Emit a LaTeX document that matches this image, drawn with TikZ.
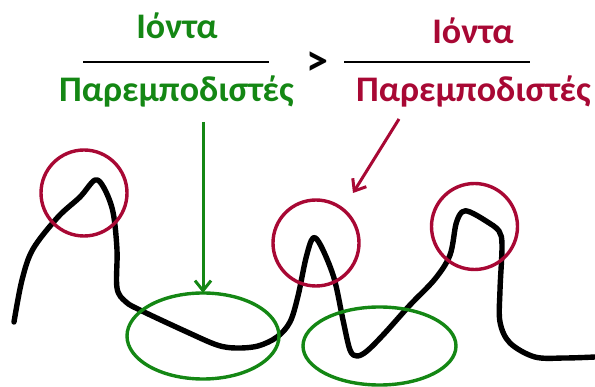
\documentclass[tikz,border=0pt]{standalone}
\usepackage{fontspec}
\setmainfont{Carlito}
\usetikzlibrary{arrows.meta}
\definecolor{ggreen}{RGB}{20,135,20}
\definecolor{rred}{RGB}{168,8,52}
\tikzset{
  lbl/.style={font=\bfseries\fontsize{36}{38}\selectfont, inner sep=0pt, anchor=base},
  bar/.style={line width=2pt, black},
  ring/.style={line width=3.4pt},
  chain/.style={line width=5.4pt, black, line cap=round, line join=round},
  ptr/.style={line width=3pt, -{Straight Barb[length=10pt,width=16pt,line width=3pt]}}
}
\begin{document}
\begin{tikzpicture}[x=1pt,y=-1pt]
\useasboundingbox (0,0) rectangle (595,387);
% left fraction
\node[lbl, text=ggreen] (gnum) at (177,39) {Ιόντα};
\node[lbl, text=ggreen] (gden) at (176.5,102) {Παρεμποδιστές};
\coordinate (gl) at (83,62); \coordinate (gr) at (269,62);
\draw[bar] (gl) -- (gr);
\node[font=\bfseries\fontsize{44}{44}\selectfont, inner sep=0pt] (gt) at (317,64) {>};
% right fraction
\node[lbl, text=rred] (rnum) at (473,44) {Ιόντα};
\node[lbl, text=rred] (rden) at (473.5,102) {Παρεμποδιστές};
\coordinate (rl) at (344,62); \coordinate (rr) at (530,62);
\draw[bar] (rl) -- (rr);
% chain
\draw[chain] plot[smooth, tension=0.55] coordinates {
 (14,322) (22,280) (33,249) (58,217) (80,197) (95,180) (104,188) (113,212) (117,250)
 (117,288) (126,302) (142,311) (187,332) (217,345) (236,348) (258,346) (277,337) (290,322)
 (298,296) (306,258) (313,238) (321,246) (334,278) (343,320) (350,350) (357,356) (367,351)
 (384,334) (410,305) (435,279) (450,255) (456,224) (462,212) (470,212) (486,221) (499,231)
 (502,246) (500,290) (500,322) (510,343) (535,357) (565,358) (595,357)};
% circles
\node[draw=rred, ring, circle, minimum size=86pt, inner sep=0pt] (c1) at (84,193) {};
\node[draw=rred, ring, circle, minimum size=86pt, inner sep=0pt] (c2) at (316,243) {};
\node[draw=rred, ring, circle, minimum size=86pt, inner sep=0pt] (c3) at (474.5,226.5) {};
% ellipses
\draw[ggreen, ring] (203,336) ellipse [x radius=76, y radius=43];
\coordinate (e1top) at (203,293);
\draw[ggreen, ring] (379.5,346) ellipse [x radius=76.5, y radius=39];
% arrows
\coordinate (gs) at (203,122);
\draw[ptr, ggreen] (gs) -- (e1top);
\coordinate (rs) at (399,119);
\coordinate (rt) at (353,193);
\draw[ptr, rred] (rs) -- (rt);
\end{tikzpicture}
\end{document}
